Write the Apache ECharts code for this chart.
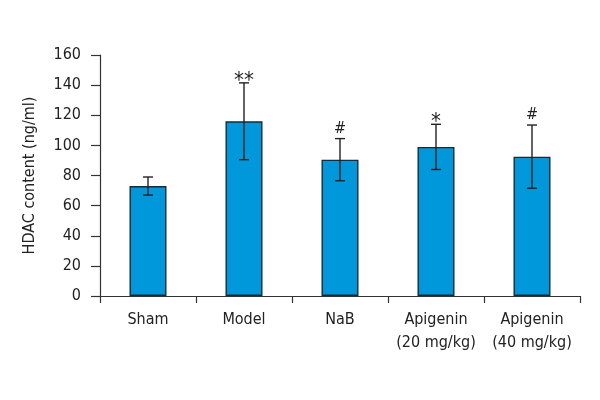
<!DOCTYPE html>
<html><head><meta charset="utf-8">
<script src="https://cdn.jsdelivr.net/npm/echarts@6/dist/echarts.min.js"></script>
<style>html,body{margin:0;padding:0;background:#fff}#c{width:600px;height:400px}</style>
</head><body><div id="c"></div>
<script>
const categories = ["Sham", "Model", "NaB", "Apigenin\n(20 mg/kg)", "Apigenin\n(40 mg/kg)"];
const means = [73, 116, 90.5, 99, 92.5];
const errors = [6, 25.5, 14, 15, 21];
const marks = ["", "**", "#", "*", "#"];
const yTicks = [0, 20, 40, 60, 80, 100, 120, 140, 160];

const FONT = '"Liberation Sans Narrow", "DejaVu Sans Condensed", sans-serif';
const chart = echarts.init(document.getElementById('c'));
chart.setOption({
  animation: false,
  grid: {left: 100, right: 20, top: 55, bottom: 104},
  xAxis: {
    type: 'category', data: categories,
    axisLine: {lineStyle: {color: '#333', width: 1.2}},
    axisTick: {show: true, length: 7, lineStyle: {color: '#333', width: 1.2}},
    axisLabel: {color: '#222', fontFamily: FONT, fontSize: 16, margin: 12, lineHeight: 23, interval: 0}
  },
  yAxis: {
    type: 'value', min: 0, max: 160, interval: 20,
    name: 'HDAC content (ng/ml)', nameLocation: 'middle', nameGap: 62,
    nameTextStyle: {color: '#222', fontFamily: FONT, fontSize: 16},
    axisLine: {show: true, lineStyle: {color: '#333', width: 1.2}},
    axisTick: {show: true, length: 9, lineStyle: {color: '#333', width: 1.2}},
    axisLabel: {color: '#222', fontFamily: FONT, fontSize: 16, margin: 19},
    splitLine: {show: false}
  },
  series: [
    {
      type: 'bar', data: means, barWidth: 37,
      itemStyle: {color: '#0098DB', borderColor: '#1a2a33', borderWidth: 1.4}
    },
    {
      type: 'custom',
      data: means.map((m, i) => [i, m - errors[i], m + errors[i], marks[i]]),
      renderItem: function (params, api) {
        const x = api.value(0);
        const lo = api.coord([x, api.value(1)]);
        const hi = api.coord([x, api.value(2)]);
        const hw = 5;
        const children = [
          {type: 'line', shape: {x1: hi[0], y1: hi[1], x2: lo[0], y2: lo[1]}, style: {stroke: '#222', lineWidth: 1.4}},
          {type: 'line', shape: {x1: hi[0] - hw, y1: hi[1], x2: hi[0] + hw, y2: hi[1]}, style: {stroke: '#222', lineWidth: 1.4}},
          {type: 'line', shape: {x1: lo[0] - hw, y1: lo[1], x2: lo[0] + hw, y2: lo[1]}, style: {stroke: '#222', lineWidth: 1.4}}
        ];
        const mk = marks[params.dataIndex];
        if (mk) {
          const isStar = mk.indexOf('*') >= 0;
          children.push({type: 'text', style: {
            text: mk, x: hi[0], y: hi[1] + (isStar ? 9 : -2), align: 'center', verticalAlign: 'bottom',
            fill: '#222', font: (isStar ? '22px ' : '16px ') + FONT
          }});
        }
        return {type: 'group', children: children};
      },
      z: 10
    }
  ]
});
</script></body></html>
